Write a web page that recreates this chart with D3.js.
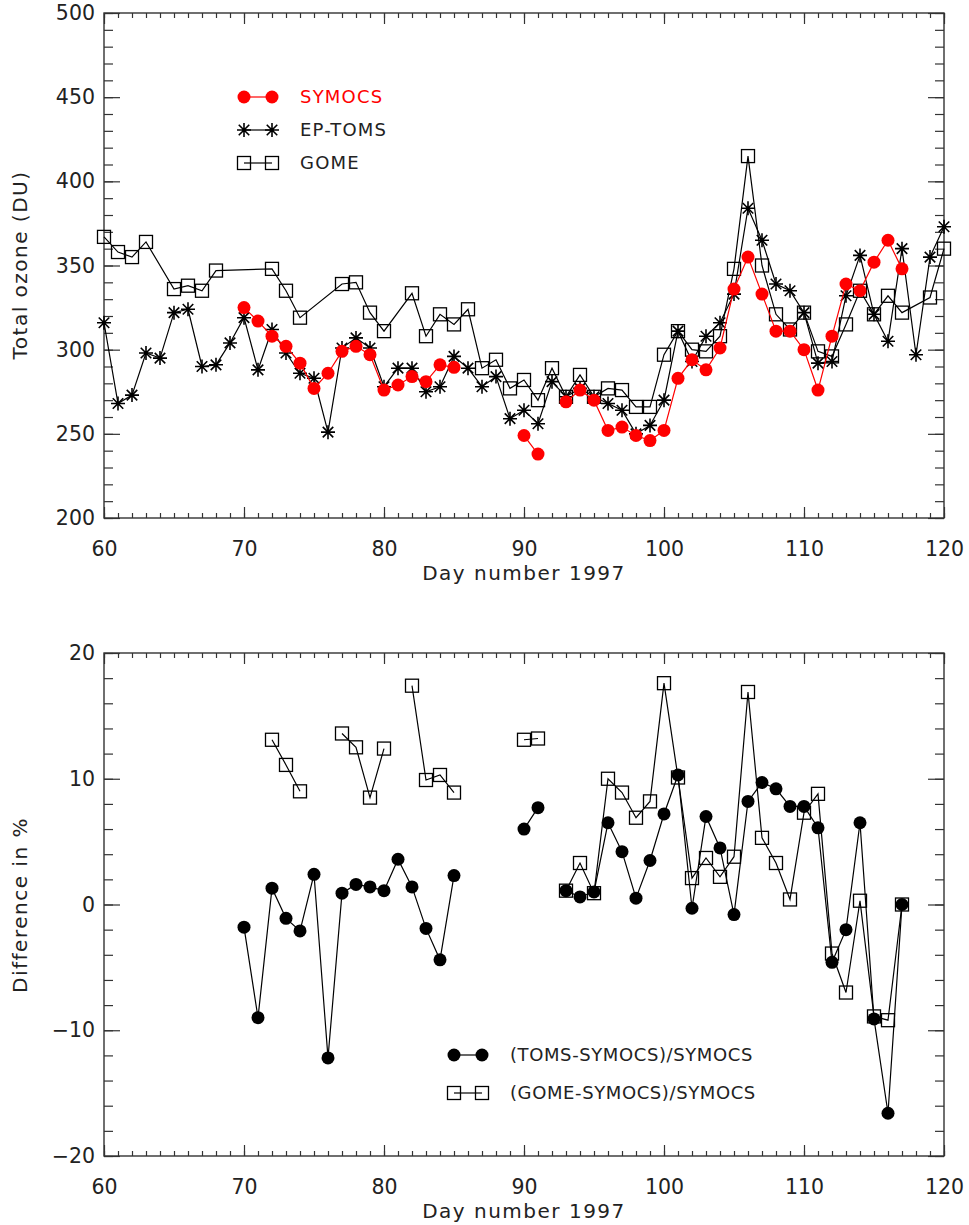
<!DOCTYPE html>
<html>
<head>
<meta charset="utf-8">
<script src="https://cdn.jsdelivr.net/npm/d3@7"></script>
<style>
  body { margin: 0; background: #fff; }
  svg text { font-family: "DejaVu Sans", sans-serif; fill: #222; }
</style>
</head>
<body>
<svg id="chart" width="969" height="1225"></svg>
<script>
// day numbers 1997 (x categories)
const days = [60, 61, 62, 63, 64, 65, 66, 67, 68, 69,
              70, 71, 72, 73, 74, 75, 76, 77, 78, 79,
              80, 81, 82, 83, 84, 85, 86, 87, 88, 89,
              90, 91, 92, 93, 94, 95, 96, 97, 98, 99,
              100, 101, 102, 103, 104, 105, 106, 107, 108, 109,
              110, 111, 112, 113, 114, 115, 116, 117, 118, 119, 120];

// total ozone (DU)
const symocs = [null, null, null, null, null, null, null, null, null, null,
                325, 317, 308, 302, 292, 277, 286, 299, 302, 297,
                276, 279, 284, 281, 291, 289.5, null, null, null, null,
                249, 238, null, 269, 276, 270, 252, 254, 249, 246,
                252, 283, 294, 288, 301, 336, 355, 333, 311, 311,
                300, 276, 308, 339, 335, 352, 365, 348, null, null, null];

const epToms = [316, 268, 273, 298, 295, 322, 324, 290, 291, 304,
                319, 288, 312, 298, 286, 283, 251, 301, 307, 301,
                278, 289, 289, 275, 278, 296, 289, 278, 284, 259,
                264, 256, 281, 272, 277, 272, 268, 264, 250, 255,
                270, 311, 293, 308, 316, 333, 384, 365, 339, 335,
                322, 292, 293, 332, 356, 321, 305, 360, 297, 355, 373];

const gome = [367, 358, 355, 364, null, 336, 338, 335, 347, null,
              null, null, 348, 335, 319, null, null, 339, 340, 322,
              311, null, 333.5, 308, 321, 315, 324, 289, 294, 277,
              282, 270, 289, 272, 285, 272, 277, 276, 266, 266,
              297, 311, 300, 299, 308, 348, 415, 350, 321, 312,
              322, 299, 296, 315, 335, 321, 332, 322, null, 331, 360];

// difference in %
const diffToms = [null, null, null, null, null, null, null, null, null, null,
                  -1.8, -9.0, 1.3, -1.1, -2.1, 2.4, -12.2, 0.9, 1.6, 1.4,
                  1.1, 3.6, 1.4, -1.9, -4.4, 2.3, null, null, null, null,
                  6.0, 7.7, null, 1.1, 0.6, 1.0, 6.5, 4.2, 0.5, 3.5,
                  7.2, 10.3, -0.3, 7.0, 4.5, -0.8, 8.2, 9.7, 9.2, 7.8,
                  7.8, 6.1, -4.6, -2.0, 6.5, -9.1, -16.6, 0.0, null, null, null];

const diffGome = [null, null, null, null, null, null, null, null, null, null,
                  null, null, 13.1, 11.1, 9.0, null, null, 13.6, 12.5, 8.5,
                  12.4, null, 17.4, 9.9, 10.3, 8.9, null, null, null, null,
                  13.1, 13.2, null, 1.1, 3.3, 0.9, 10.0, 8.9, 6.9, 8.2,
                  17.6, 10.1, 2.1, 3.7, 2.2, 3.8, 16.9, 5.3, 3.3, 0.4,
                  7.3, 8.8, -3.9, -7.0, 0.3, -8.9, -9.2, 0.0, null, null, null];

const xTicks = [60, 70, 80, 90, 100, 110, 120];
const ozoneTicks = [200, 250, 300, 350, 400, 450, 500];
const diffTicks = [-20, -10, 0, 10, 20];

const svg = d3.select("#chart");

const xScale = d3.scaleLinear().domain([60, 120]).range([104, 944]);
const yOzone = d3.scaleLinear().domain([200, 500]).range([518, 13]);
const yDiff = d3.scaleLinear().domain([-20, 20]).range([1156, 653]);

/* box with inward ticks on all four sides */
function drawFrame(y, majorTicks, minorStep, yLabel, yLabelY) {
    const [yb, yt] = y.range();
    const g = svg.append("g");
    const xMinor = d3.range(60, 121, 1);
    const yMinor = d3.range(y.domain()[0], y.domain()[1] + 0.001, minorStep);

    g.append("g").attr("transform", "translate(0," + yb + ")")
        .call(d3.axisBottom(xScale).tickValues(xMinor).tickSize(-5).tickFormat(""));
    g.append("g").attr("transform", "translate(0," + yb + ")")
        .call(d3.axisBottom(xScale).tickValues(xTicks).tickSize(-11).tickPadding(23).tickFormat(d3.format("d")));
    g.append("g").attr("transform", "translate(0," + yt + ")")
        .call(d3.axisTop(xScale).tickValues(xMinor).tickSize(-5).tickFormat(""));
    g.append("g").attr("transform", "translate(0," + yt + ")")
        .call(d3.axisTop(xScale).tickValues(xTicks).tickSize(-11).tickFormat(""));

    g.append("g").attr("transform", "translate(104,0)")
        .call(d3.axisLeft(y).tickValues(yMinor).tickSize(-9).tickFormat(""));
    g.append("g").attr("transform", "translate(104,0)")
        .call(d3.axisLeft(y).tickValues(majorTicks).tickSize(-16).tickPadding(9).tickFormat(d => d < 0 ? "\u2212" + (-d) : d));
    g.append("g").attr("transform", "translate(944,0)")
        .call(d3.axisRight(y).tickValues(yMinor).tickSize(-9).tickFormat(""));
    g.append("g").attr("transform", "translate(944,0)")
        .call(d3.axisRight(y).tickValues(majorTicks).tickSize(-16).tickFormat(""));

    g.selectAll("path.domain").remove();
    g.selectAll(".tick line").attr("stroke", "#333").attr("stroke-width", 1.2);
    g.selectAll(".tick text").attr("font-size", 20.5).attr("fill", "#222")
        .style("font-family", "'DejaVu Sans', sans-serif");

    g.append("rect")
        .attr("x", 104).attr("y", yt)
        .attr("width", 840).attr("height", yb - yt)
        .attr("fill", "none").attr("stroke", "#333").attr("stroke-width", 1.4);

    g.append("text")
        .attr("x", 524).attr("y", yb + 62)
        .attr("text-anchor", "middle")
        .attr("font-size", 20).attr("letter-spacing", 1.5)
        .text("Day number 1997");

    g.append("text")
        .attr("transform", "translate(27," + yLabelY + ")rotate(-90)")
        .attr("text-anchor", "middle")
        .attr("font-size", 20).attr("letter-spacing", 1.5)
        .text(yLabel);
}

drawFrame(yOzone, ozoneTicks, 10, "Total ozone (DU)", 265);
drawFrame(yDiff, diffTicks, 2, "Difference in %", 905);

/* markers */
function circleMark(g, cx, cy, color) {
    g.append("circle").attr("cx", cx).attr("cy", cy).attr("r", 6.5).attr("fill", color);
}
function starMark(g, cx, cy) {
    const s = 7;
    const path = d3.path();
    path.moveTo(cx - s, cy); path.lineTo(cx + s, cy);
    path.moveTo(cx, cy - s); path.lineTo(cx, cy + s);
    path.moveTo(cx - s * 0.75, cy - s * 0.75); path.lineTo(cx + s * 0.75, cy + s * 0.75);
    path.moveTo(cx - s * 0.75, cy + s * 0.75); path.lineTo(cx + s * 0.75, cy - s * 0.75);
    g.append("path").attr("d", path.toString()).attr("stroke", "#000").attr("stroke-width", 1.6);
}
function squareMark(g, cx, cy) {
    g.append("rect").attr("x", cx - 6.5).attr("y", cy - 6.5).attr("width", 13).attr("height", 13)
        .attr("fill", "none").attr("stroke", "#000").attr("stroke-width", 1.3);
}

/* one series: line (broken or joined over gaps) + markers */
function drawSeries(values, y, color, mark, joinGaps) {
    const g = svg.append("g");
    let pts = days.map((d, i) => [d, values[i]]);
    if (joinGaps) pts = pts.filter(p => p[1] != null);
    const line = d3.line()
        .defined(p => p[1] != null)
        .x(p => xScale(p[0]))
        .y(p => y(p[1]));
    g.append("path").attr("d", line(pts))
        .attr("fill", "none").attr("stroke", color).attr("stroke-width", 1.2);
    pts.filter(p => p[1] != null).forEach(p => mark(g, xScale(p[0]), y(p[1])));
}

drawSeries(gome, yOzone, "#000", squareMark, true);
drawSeries(epToms, yOzone, "#000", starMark, true);
drawSeries(symocs, yOzone, "#ff0000", (g, x, y) => circleMark(g, x, y, "#ff0000"), false);

drawSeries(diffGome, yDiff, "#000", squareMark, false);
drawSeries(diffToms, yDiff, "#000", (g, x, y) => circleMark(g, x, y, "#000"), false);

/* legends */
function legendRow(x, y, color, mark, label, textColor, spacing) {
    const g = svg.append("g");
    g.append("line").attr("x1", x).attr("x2", x + 28).attr("y1", y).attr("y2", y)
        .attr("stroke", color).attr("stroke-width", 1.2);
    mark(g, x, y);
    mark(g, x + 28, y);
    g.append("text").attr("x", x + 56).attr("y", y).attr("dy", "0.35em")
        .attr("font-size", 18).attr("letter-spacing", spacing)
        .style("fill", textColor).text(label);
}

legendRow(244, 97, "#ff0000", (g, x, y) => circleMark(g, x, y, "#ff0000"), "SYMOCS", "#ff0000", 1.2);
legendRow(244, 130, "#000", starMark, "EP-TOMS", "#222", 1.2);
legendRow(244, 163, "#000", squareMark, "GOME", "#222", 1.2);

legendRow(454, 1055, "#000", (g, x, y) => circleMark(g, x, y, "#000"), "(TOMS-SYMOCS)/SYMOCS", "#222", 0.6);
legendRow(454, 1093, "#000", squareMark, "(GOME-SYMOCS)/SYMOCS", "#222", 0.6);
</script>
</body>
</html>
